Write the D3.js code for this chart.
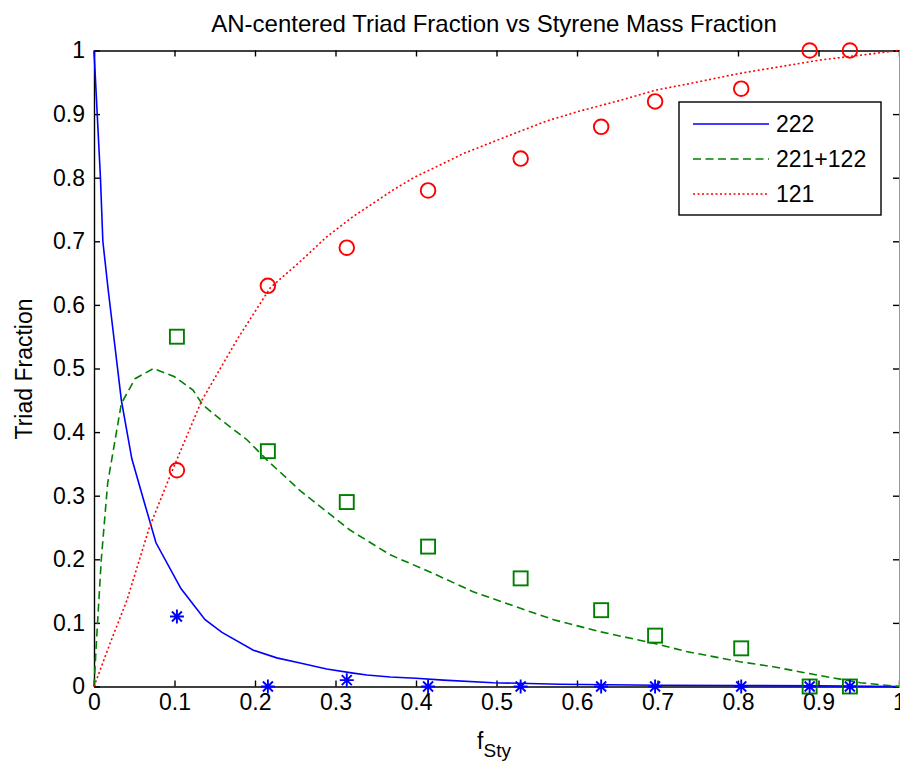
<!DOCTYPE html>
<html lang="en">
<head>
  <meta charset="UTF-8">
  <title>AN-centered Triad Fraction</title>
  <style>
    body { margin: 0; background: #fff; }
    svg { display: block; font-family: "Liberation Sans", Arial, sans-serif; }
    .axis path, .axis line { stroke: #000; stroke-width: 1.4px; }
    .axis text { font-size: 23px; fill: #000; font-family: "Liberation Sans", Arial, sans-serif; }
  </style>
</head>
<body>
  <script src="https://cdnjs.cloudflare.com/ajax/libs/d3/7.8.5/d3.min.js"></script>
  <svg></svg>
  <script>
    // model curves
    var blueX  = [0, 0.004, 0.008, 0.011, 0.0175, 0.034, 0.047, 0.061, 0.077, 0.108, 0.138, 0.159, 0.198, 0.227, 0.256, 0.289, 0.322, 0.339, 0.368, 0.40, 0.434, 0.496, 0.579, 0.7, 0.8, 0.9, 1.0];
    var blueY  = [1, 0.90, 0.80, 0.70, 0.625, 0.45, 0.358, 0.296, 0.226, 0.154, 0.105, 0.085, 0.057, 0.045, 0.037, 0.0275, 0.021, 0.018, 0.015, 0.013, 0.010, 0.006, 0.0035, 0.002, 0.0015, 0.001, 0];

    var greenX = [0, 0.003, 0.009, 0.017, 0.034, 0.051, 0.074, 0.100, 0.123, 0.135, 0.157, 0.190, 0.215, 0.256, 0.297, 0.318, 0.368, 0.421, 0.471, 0.525, 0.571, 0.629, 0.695, 0.736, 0.802, 0.844, 0.898, 0.952, 1.0];
    var greenY = [0, 0.07, 0.199, 0.32, 0.445, 0.484, 0.50, 0.487, 0.466, 0.443, 0.42, 0.388, 0.356, 0.308, 0.267, 0.246, 0.207, 0.178, 0.149, 0.125, 0.105, 0.086, 0.068, 0.055, 0.039, 0.031, 0.018, 0.006, 0];

    var redX   = [0, 0.02, 0.041, 0.069, 0.098, 0.134, 0.178, 0.219, 0.256, 0.289, 0.322, 0.372, 0.397, 0.43, 0.459, 0.513, 0.562, 0.604, 0.649, 0.699, 0.740, 0.802, 0.902, 1.0];
    var redY   = [0, 0.068, 0.136, 0.251, 0.342, 0.450, 0.546, 0.627, 0.668, 0.707, 0.739, 0.781, 0.80, 0.82, 0.838, 0.865, 0.889, 0.905, 0.92, 0.938, 0.948, 0.964, 0.985, 1.0];

    // experimental points
    var expX     = [0.103, 0.216, 0.314, 0.415, 0.530, 0.630, 0.697, 0.804, 0.889, 0.939];
    var exp222   = [0.11, 0.0, 0.01, 0.0, 0.0, 0.0, 0.0, 0.0, 0.0, 0.0];
    var exp221   = [0.55, 0.37, 0.29, 0.22, 0.17, 0.12, 0.08, 0.06, 0.0, 0.0];
    var exp121   = [0.34, 0.63, 0.69, 0.78, 0.83, 0.88, 0.92, 0.94, 1.0, 1.0];

    var xTicks = [0, 0.1, 0.2, 0.3, 0.4, 0.5, 0.6, 0.7, 0.8, 0.9, 1];
    var yTicks = [0, 0.1, 0.2, 0.3, 0.4, 0.5, 0.6, 0.7, 0.8, 0.9, 1];
    var legendLabels = ['222', '221+122', '121'];

    var width = 900, height = 761;
    var plot = {left: 94, right: 899, top: 50.5, bottom: 686.5};

    var svg = d3.select('svg')
                .attr('width', width)
                .attr('height', height);

    var xScale = d3.scaleLinear().domain([0, 1]).range([plot.left, plot.right]);
    var yScale = d3.scaleLinear().domain([0, 1]).range([plot.bottom, plot.top]);

    var fmt = function(d) { return String(+d.toFixed(1)); };

    // axes, ticks pointing inward
    svg.append('g').attr('class', 'axis')
      .attr('transform', 'translate(0,' + plot.bottom + ')')
      .call(d3.axisBottom(xScale).tickValues(xTicks).tickSize(-6).tickSizeOuter(0).tickPadding(7).tickFormat(fmt));
    svg.append('g').attr('class', 'axis')
      .attr('transform', 'translate(0,' + plot.top + ')')
      .call(d3.axisTop(xScale).tickValues(xTicks).tickSize(-6).tickSizeOuter(0).tickFormat(''));
    svg.append('g').attr('class', 'axis')
      .attr('transform', 'translate(' + plot.left + ',0)')
      .call(d3.axisLeft(yScale).tickValues(yTicks).tickSize(-6).tickSizeOuter(0).tickPadding(9).tickFormat(fmt));
    svg.append('g').attr('class', 'axis right')
      .attr('transform', 'translate(' + plot.right + ',0)')
      .call(d3.axisRight(yScale).tickValues(yTicks).tickSize(-6).tickSizeOuter(0).tickFormat(''));
    svg.select('.right path').style('stroke', '#999').style('stroke-width', '1px');

    // model lines
    var line = d3.line()
      .x(function(d) { return xScale(d[0]); })
      .y(function(d) { return yScale(d[1]); });

    var series = [
      {x: blueX, y: blueY, color: '#0000ff', dash: null},
      {x: greenX, y: greenY, color: '#008000', dash: '8,4.5'},
      {x: redX, y: redY, color: '#ff0000', dash: '2,2.5'}
    ];

    series.forEach(function(s) {
      svg.append('path')
        .datum(d3.zip(s.x, s.y))
        .attr('d', line)
        .attr('fill', 'none')
        .attr('stroke', s.color)
        .attr('stroke-width', 1.6)
        .attr('stroke-dasharray', s.dash);
    });

    // markers: circles (121), squares (221+122), asterisks (222)
    svg.append('g').selectAll('circle')
      .data(d3.zip(expX, exp121))
      .enter().append('circle')
        .attr('cx', function(d) { return xScale(d[0]); })
        .attr('cy', function(d) { return yScale(d[1]); })
        .attr('r', 7.3)
        .attr('fill', 'none')
        .attr('stroke', '#ff0000')
        .attr('stroke-width', 1.9);

    svg.append('g').selectAll('rect')
      .data(d3.zip(expX, exp221))
      .enter().append('rect')
        .attr('x', function(d) { return xScale(d[0]) - 7; })
        .attr('y', function(d) { return yScale(d[1]) - 7; })
        .attr('width', 14)
        .attr('height', 14)
        .attr('fill', 'none')
        .attr('stroke', '#008000')
        .attr('stroke-width', 1.9);

    var star = 'M-7,0H7M0,-7V7M-5,-5L5,5M-5,5L5,-5';
    svg.append('g').selectAll('path')
      .data(d3.zip(expX, exp222))
      .enter().append('path')
        .attr('transform', function(d) { return 'translate(' + xScale(d[0]) + ',' + yScale(d[1]) + ')'; })
        .attr('d', star)
        .attr('fill', 'none')
        .attr('stroke', '#0000ff')
        .attr('stroke-width', 1.9);

    // legend
    var lg = svg.append('g').attr('transform', 'translate(679,102)');
    lg.append('rect')
      .attr('width', 202).attr('height', 113)
      .attr('fill', '#fff').attr('stroke', '#000').attr('stroke-width', 1.4);
    legendLabels.forEach(function(t, i) {
      var yy = 22 + i * 35;
      lg.append('line')
        .attr('x1', 14).attr('x2', 90).attr('y1', yy).attr('y2', yy)
        .attr('stroke', series[i].color).attr('stroke-width', 1.6)
        .attr('stroke-dasharray', series[i].dash);
      lg.append('text')
        .attr('x', 97).attr('y', yy + 8)
        .style('font-size', '23px')
        .text(t);
    });

    // title and axis labels
    svg.append('text')
      .attr('x', 494).attr('y', 32)
      .attr('text-anchor', 'middle')
      .style('font-size', '24px')
      .text('AN-centered Triad Fraction vs Styrene Mass Fraction');

    svg.append('text')
      .attr('transform', 'translate(32,369) rotate(-90)')
      .attr('text-anchor', 'middle')
      .style('font-size', '23px')
      .text('Triad Fraction');

    var xl = svg.append('text')
      .attr('x', 494).attr('y', 749)
      .attr('text-anchor', 'middle')
      .style('font-size', '23px');
    xl.append('tspan').text('f');
    xl.append('tspan').attr('dy', 8).style('font-size', '19px').text('Sty');
  </script>
</body>
</html>
